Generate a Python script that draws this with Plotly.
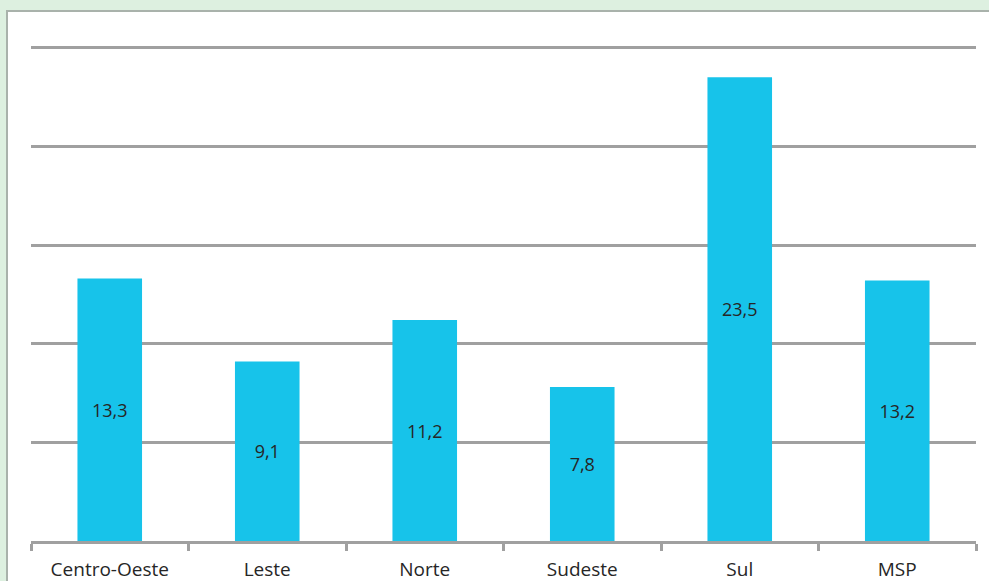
import plotly.graph_objects as go

regions = ["Centro-Oeste", "Leste", "Norte", "Sudeste", "Sul", "MSP"]
values = [13.3, 9.1, 11.2, 7.8, 23.5, 13.2]
value_labels = ["13,3", "9,1", "11,2", "7,8", "23,5", "13,2"]

W, H = 989, 581
ml, mr, mt, mb = 31, 13, 28, 40
pw, ph = W - ml - mr, H - mt - mb
y_top = 26  # a little headroom so the gridline at 25 is drawn


def paper_y(px):
    """Convert a pixel row (from the top) into paper y."""
    return (H - mb - px) / ph


fig = go.Figure(
    go.Bar(
        x=regions,
        y=values,
        text=value_labels,
        textposition="inside",
        insidetextanchor="middle",
        textangle=0,
        textfont=dict(family="Open Sans", size=18, color="#262626"),
        marker=dict(color="#17C3EA", line=dict(width=0)),
        hoverinfo="skip",
    )
)

# white panel with grey top/left border on the green page background
fig.add_shape(
    type="rect", xref="paper", yref="paper",
    x0=(7 - ml) / pw, x1=(W + 20 - ml) / pw,
    y0=paper_y(H + 20), y1=paper_y(11),
    fillcolor="white", line=dict(color="#A9B2AB", width=2), layer="below",
)

fig.update_layout(
    width=W, height=H,
    margin=dict(l=ml, r=mr, t=mt, b=mb),
    paper_bgcolor="#DDF0E0",
    plot_bgcolor="rgba(0,0,0,0)",
    bargap=0.59,
    showlegend=False,
    font=dict(family="Open Sans", size=18, color="#262626"),
)
fig.update_xaxes(
    showline=True, linecolor="#A0A0A0", linewidth=3,
    ticks="outside", tickson="boundaries", ticklen=7, tickwidth=3, tickcolor="#A0A0A0",
    ticklabelstandoff=9, automargin=False,
    showgrid=False, tickfont=dict(size=19, color="#262626"),
)
fig.update_yaxes(
    range=[0, y_top], dtick=5, showticklabels=False, automargin=False,
    showgrid=True, gridcolor="#A0A0A0", gridwidth=3, zeroline=False,
)

fig.write_html("out.html")
